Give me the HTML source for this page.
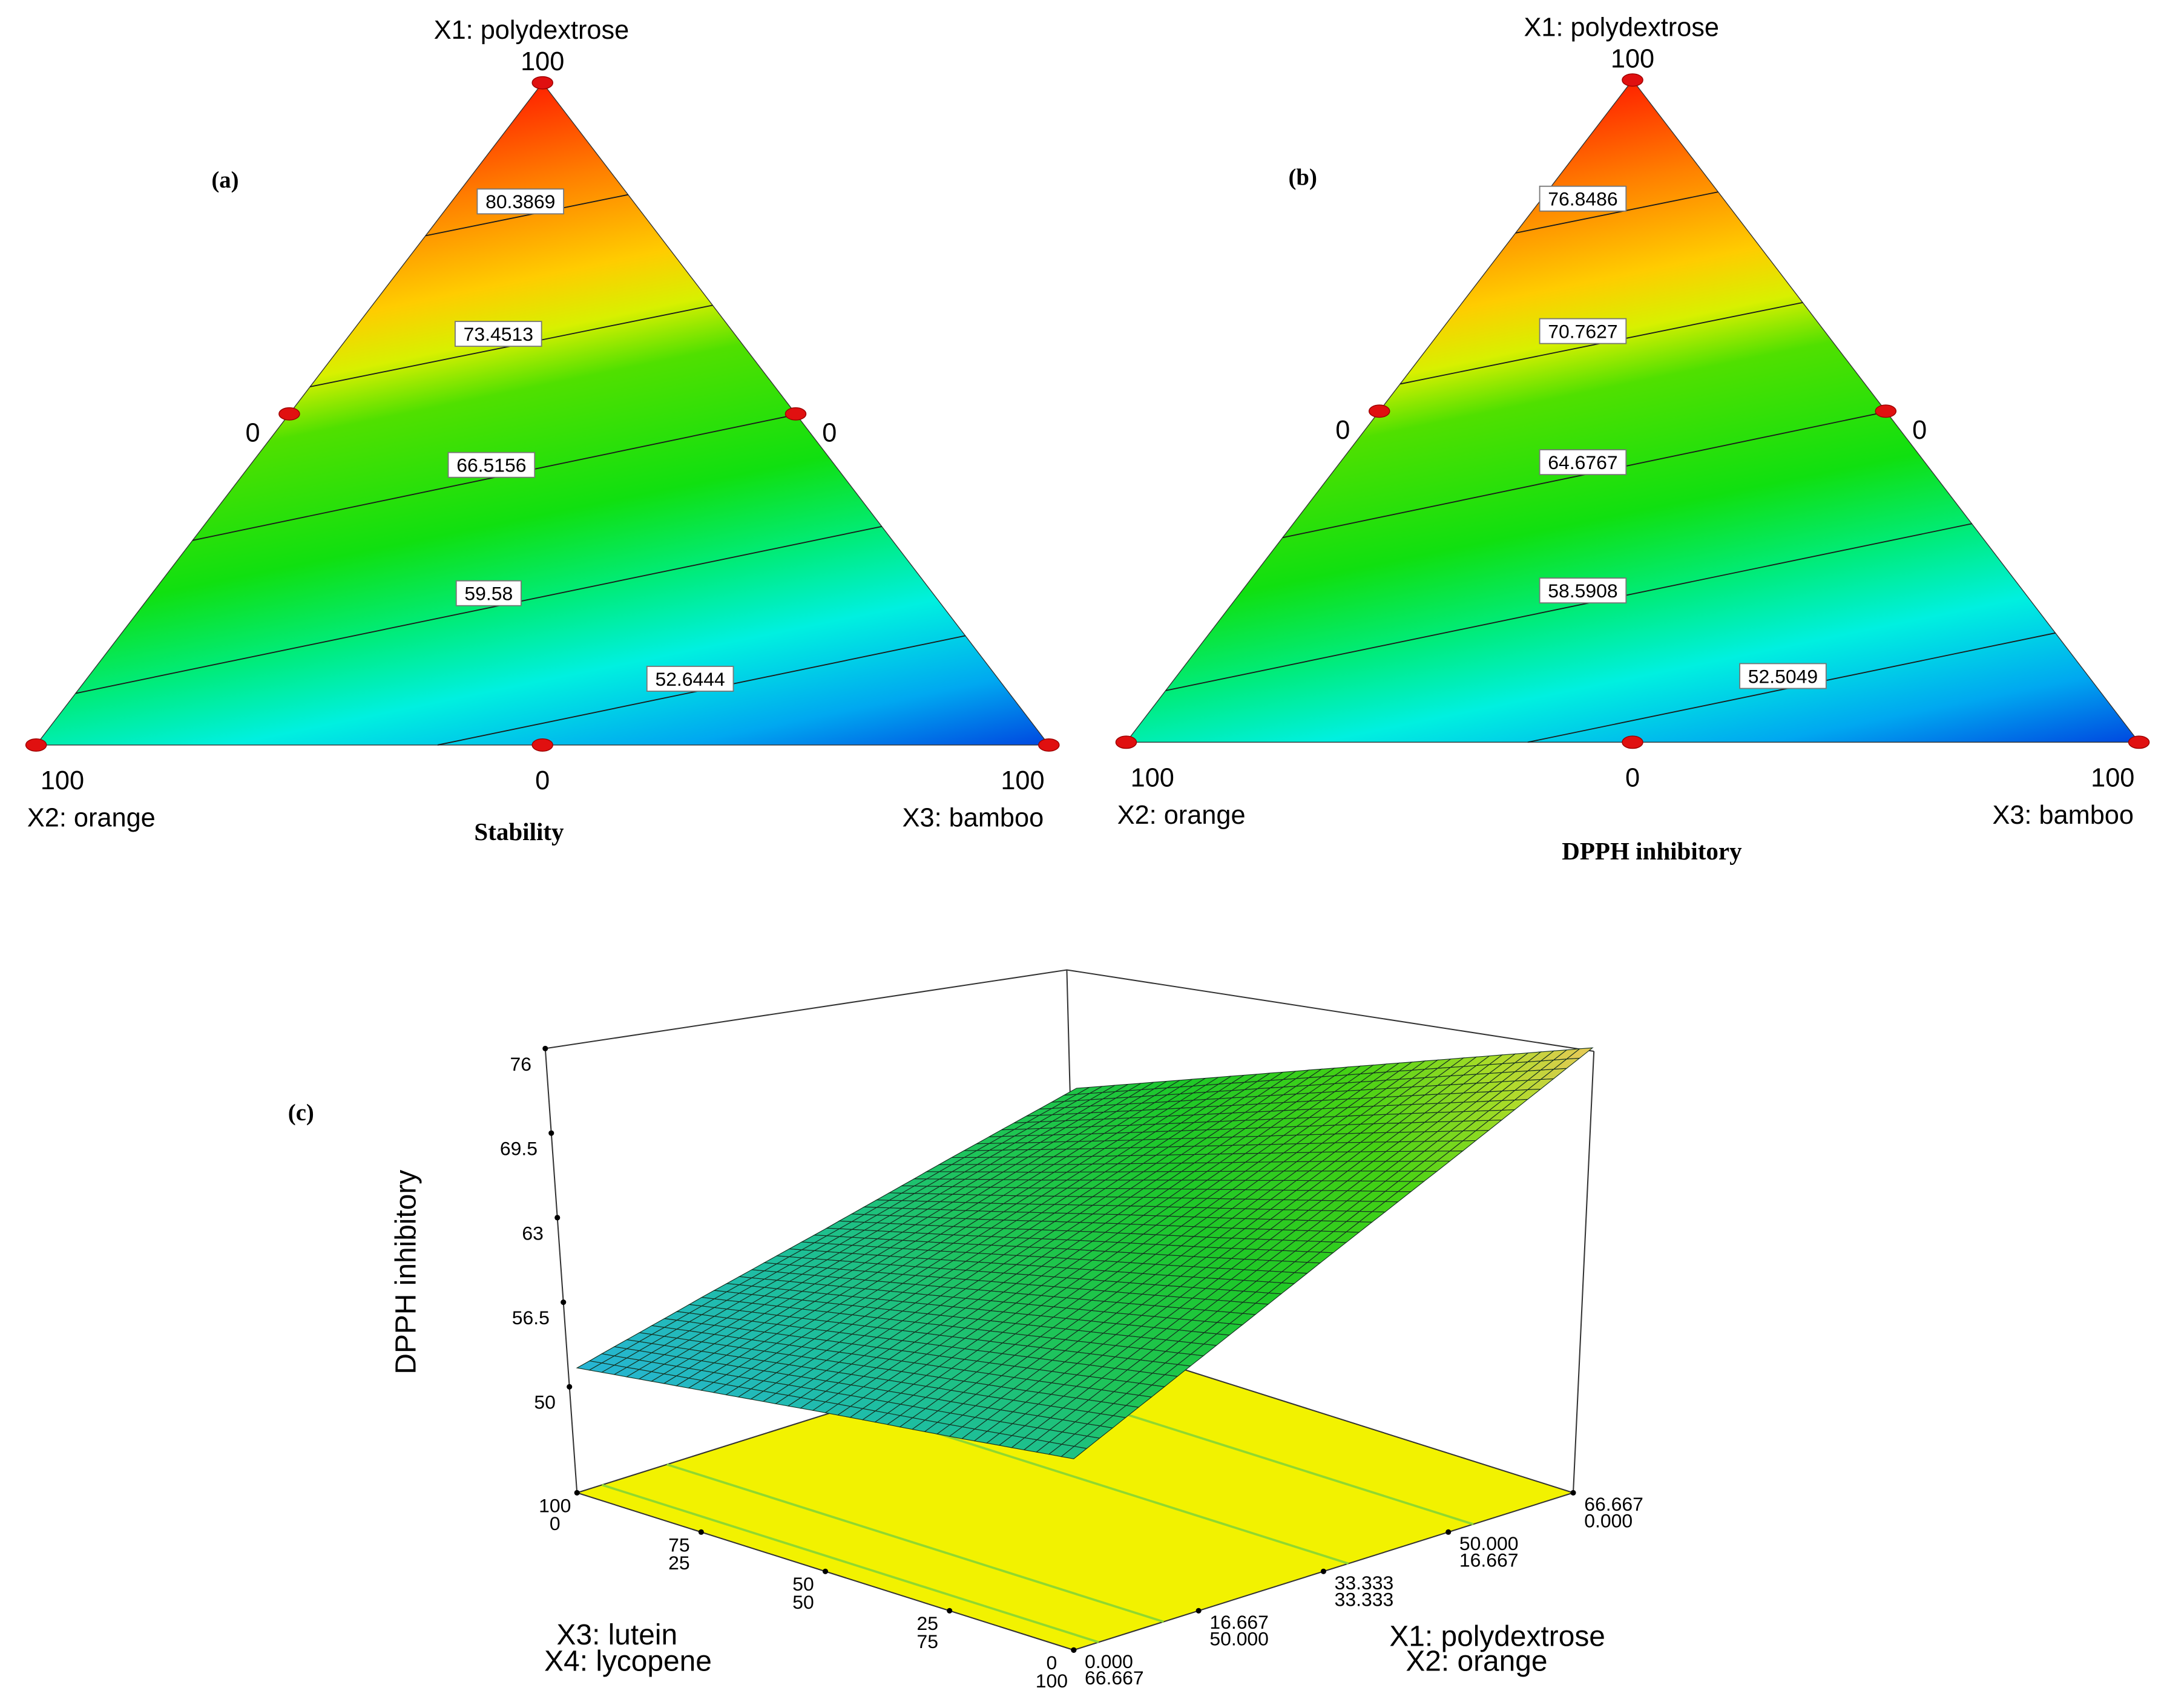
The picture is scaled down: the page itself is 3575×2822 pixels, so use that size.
<!DOCTYPE html>
<html><head><meta charset="utf-8"><style>
html,body{margin:0;padding:0;background:#fff;}
svg{display:block;}
text{font-family:"Liberation Sans",sans-serif;}
.serif{font-family:"Liberation Serif",serif;font-weight:bold;}
</style></head><body>
<svg id="fig" width="3575" height="2822" viewBox="0 0 1568 1238" xmlns="http://www.w3.org/2000/svg">
<defs>
<linearGradient id="gradA" gradientUnits="userSpaceOnUse" x1="376" y1="64" x2="485" y2="596"></linearGradient>
<linearGradient id="gradB" gradientUnits="userSpaceOnUse" x1="1166" y1="62" x2="1275" y2="594"></linearGradient>
</defs>
<g id="panelA"></g>
<g id="panelB"></g>
<g id="panelC"></g>
</svg>
<script>
// ---- Ternary panel data ----
const contourValuesA = [80.3869, 73.4513, 66.5156, 59.58, 52.6444];
const contourValuesB = [76.8486, 70.7627, 64.6767, 58.5908, 52.5049];
const colorStopValues = [87.4, 82, 77, 74, 71, 64, 59, 55, 50, 45.9];
const colorStopColors = ['#ff2200','#ff8000','#ffcc00','#d8f000','#50e000','#10e010','#00ec80','#00f0e0','#00a8f0','#0048e0'];
// ---- Surface panel data ----
const zTicks = [76, 69.5, 63, 56.5, 50];
const x3Ticks = ['100','75','50','25','0'];
const x4Ticks = ['0','25','50','75','100'];
const x1Ticks = ['0.000','16.667','33.333','50.000','66.667'];
const x2Ticks = ['66.667','50.000','33.333','16.667','0.000'];
const surfaceZ = [
 [51.4, 53.8, 56.1, 58.5, 60.8],
 [52.7, 55.7, 58.6, 61.6, 64.6],
 [54.0, 57.6, 61.2, 64.8, 68.4],
 [55.2, 59.5, 63.7, 68.0, 72.2],
 [56.5, 61.4, 66.3, 71.1, 76.0]
];
const floorContours = [0.05, 0.18, 0.55, 0.8];

const NS='http://www.w3.org/2000/svg';
function mk(tag, attrs, parent){const e=document.createElementNS(NS,tag);for(const k in attrs)e.setAttribute(k,attrs[k]);parent.appendChild(e);return e;}
function txt(parent,x,y,s,size,cls,anchor){const t=mk('text',{x:x,y:y,'font-size':size,'text-anchor':anchor||'middle'},parent);if(cls)t.setAttribute('class',cls);t.textContent=s;return t;}

['gradA','gradB'].forEach(id=>{
  const g=document.getElementById(id);
  const vmax=colorStopValues[0], vmin=colorStopValues[colorStopValues.length-1];
  colorStopValues.forEach((v,i)=>{mk('stop',{offset:((vmax-v)/(vmax-vmin)).toFixed(3),'stop-color':colorStopColors[i]},g);});
});

function ternary(gid, dx, dy, values, grad, titles){
  const g=document.getElementById(gid);
  const A=[393+dx,60+dy], L=[26+dx,540+dy], R=[760+dx,540+dy];
  const tri=mk('polygon',{points:`${A} ${L} ${R}`,fill:`url(#${grad})`,stroke:'#333','stroke-width':0.6},g);
  
  
  const le=t=>[A[0]-367*t,A[1]+480*t], re=t=>[A[0]+367*t,A[1]+480*t];
  const geom=[[0.231,0.169],[0.459,0.336],[0.691,0.501],[0.922,0.670],[null,0.835]];
  const labelPos=[[377,146],[361,242],[356,337],[354,430],[500,492]];
  values.forEach((v,i)=>{
    const p1 = geom[i][0]===null ? [317+dx,540+dy] : le(geom[i][0]);
    const p2 = re(geom[i][1]);
    const ln=mk('line',{x1:p1[0],y1:p1[1],x2:p2[0],y2:p2[1],stroke:'#1a1a1a','stroke-width':0.8},g);
    
    
    const lx=labelPos[i][0]+dx+(gid==='panelB'&&i<4?(1147-790-labelPos[i][0]):0)+(gid==='panelB'&&i===4?2:0);
    const ly=labelPos[i][1]+dy;
    const s=String(v);
    const w=s.length*7.8+8;
    const r=mk('rect',{x:lx-w/2,y:ly-9,width:w,height:18,fill:'#fff',stroke:'#777','stroke-width':0.8},g);
    
    
    const t=txt(g,lx,ly+5,s,14);
    
    
  });
  const M1=[(A[0]+L[0])/2,(A[1]+L[1])/2], M2=[(A[0]+R[0])/2,(A[1]+R[1])/2], M3=[(L[0]+R[0])/2,L[1]];
  [A,L,R,M1,M2,M3].forEach(p=>{
    const e=mk('ellipse',{cx:p[0],cy:p[1],rx:7.5,ry:4.5,fill:'#e01010',stroke:'#900','stroke-width':0.6},g);
    
    
  });
  const items=[
    ['x1-axis-title','X1: polydextrose',385+dx,28+dy,19,null],
    ['x1-max-label','100',393+dx,51+dy,19,null],
    ['panel-label',titles[0],163+dx+(gid==='panelB'?-9:0),136+dy,17,'serif'],
    ['x1-left-zero','0',183+dx,320+dy,19,null],
    ['x1-right-zero','0',601+dx,320+dy,19,null],
    ['x2-max-label','100',45+dx,572+dy,19,null],
    ['x2-axis-title','X2: orange',66+dx,599+dy,19,null],
    ['bottom-zero','0',393+dx,572+dy,19,null],
    ['x3-max-label','100',741+dx,572+dy,19,null],
    ['x3-axis-title','X3: bamboo',705+dx,599+dy,19,null],
    ['response-title',titles[1],titles[2]+dx,609+dy+titles[3],18,'serif']
  ];
  items.forEach(it=>{const t=txt(g,it[2],it[3],it[1],it[4],it[5]);
    
    });
}
ternary('panelA',0,0,contourValuesA,'gradA',['(a)','Stability',376,0]);
ternary('panelB',790,-2,contourValuesB,'gradB',['(b)','DPPH inhibitory',407,16]);

(function(){
  const g=document.getElementById('panelC');
  const L=[418,1082],F=[778,1196],R=[1140,1082],B=[L[0]+R[0]-F[0],L[1]+R[1]-F[1]];
  const zFloor=41.8, k=9.43;
  function P(u,v){return [L[0]+u*(F[0]-L[0])+v*(R[0]-F[0]), L[1]+u*(F[1]-L[1])+v*(R[1]-F[1])];}
  function S(u,v,z){const p=P(u,v);return [p[0]+v*u*14, p[1]-(z-zFloor)*k];}
  function zAt(u,v){const n=surfaceZ.length-1;const fu=Math.min(u*n,n-1e-9),fv=Math.min(v*n,n-1e-9);
    const i=Math.floor(fu),j=Math.floor(fv),a=fu-i,b=fv-j;
    return surfaceZ[i][j]*(1-a)*(1-b)+surfaceZ[i+1][j]*a*(1-b)+surfaceZ[i][j+1]*(1-a)*b+surfaceZ[i+1][j+1]*a*b;}
  const zc=[[51,[40,180,220]],[55,[30,190,160]],[59,[30,196,90]],[64,[30,200,40]],[69,[70,210,20]],[73,[170,220,40]],[76,[236,200,90]]];
  function col(z){if(z<=zc[0][0])return zc[0][1];for(let i=1;i<zc.length;i++){if(z<=zc[i][0]){const t=(z-zc[i-1][0])/(zc[i][0]-zc[i-1][0]);return zc[i-1][1].map((c,j)=>Math.round(c+(zc[i][1][j]-c)*t));}}return zc[zc.length-1][1];}
  const top=[[395,760],[773,703],[1155,762]];
  const fr=mk('polyline',{points:top.map(p=>p.join(',')).join(' '),fill:'none',stroke:'#333','stroke-width':0.9},g);
  
  
  const bv=mk('line',{x1:773,y1:703,x2:B[0],y2:B[1],stroke:'#333','stroke-width':0.9},g);
  
  
  const fl=mk('polygon',{points:`${L} ${F} ${R} ${B}`,fill:'#f2f200',stroke:'#333','stroke-width':0.9},g);
  
  
  floorContours.forEach(v=>{const a=P(0,v),b=P(1,v);
    const l=mk('line',{x1:a[0],y1:a[1],x2:b[0],y2:b[1],stroke:'#90d830','stroke-width':1.6},g);
    
    });
  const N=40, sg=mk('g',{},g);
  
  
  for(let i=0;i<N;i++)for(let j=0;j<N;j++){
    const u0=i/N,u1=(i+1)/N,v0=j/N,v1=(j+1)/N;
    const pts=[[u0,v0],[u1,v0],[u1,v1],[u0,v1]].map(q=>S(q[0],q[1],zAt(q[0],q[1])));
    const c=col(zAt((u0+u1)/2,(v0+v1)/2));
    const p=mk('polygon',{points:pts.map(q=>q[0].toFixed(1)+','+q[1].toFixed(1)).join(' '),fill:`rgb(${c})`,stroke:'#143020','stroke-width':0.5},sg);
    
    
  }
  [[395,760,L[0],L[1]],[1155,762,R[0],R[1]]].forEach(a=>{
    const l=mk('line',{x1:a[0],y1:a[1],x2:a[2],y2:a[3],stroke:'#333','stroke-width':0.9},g);
    
    });
  zTicks.forEach(z=>{const y=760+(76-z)*k;const x=395+(y-760)*(23/322);
    const d=mk('circle',{cx:x,cy:y,r:2,fill:'#000'},g);
    
    
    const t=txt(g,x-10,y+16,String(z),14,null,'end');
    
    });
  x3Ticks.forEach((s,i)=>{const u=i/(x3Ticks.length-1);const p=P(u,0);
    const d=mk('circle',{cx:p[0],cy:p[1],r:2,fill:'#000'},g);
    
    
    const t1=txt(g,p[0]-16,p[1]+14,s,14,null,'middle');
    
    
    const t2=txt(g,p[0]-16,p[1]+27,x4Ticks[i],14,null,'middle');
    
    });
  x1Ticks.forEach((s,i)=>{const v=i/(x1Ticks.length-1);const p=P(1,v);
    const d=mk('circle',{cx:p[0],cy:p[1],r:2,fill:'#000'},g);
    
    
    const t1=txt(g,p[0]+8,p[1]+13,s,14,null,'start');
    
    
    const t2=txt(g,p[0]+8,p[1]+25,x2Ticks[i],14,null,'start');
    
    });
  const labs=[['x3-axis-title','X3: lutein',447,1192],['x4-axis-title','X4: lycopene',455,1211],['x1-axis-title','X1: polydextrose',1085,1193],['x2-axis-title','X2: orange',1070,1211]];
  labs.forEach(a=>{const t=txt(g,a[2],a[3],a[1],21);
    
    });
  const yt=txt(g,0,0,'DPPH inhibitory',21);
  yt.setAttribute('transform','translate(301,922) rotate(-90)');
  
  
  const pc=txt(g,218,812,'(c)',17,'serif');
  
  
})();
</script>
</body></html>
